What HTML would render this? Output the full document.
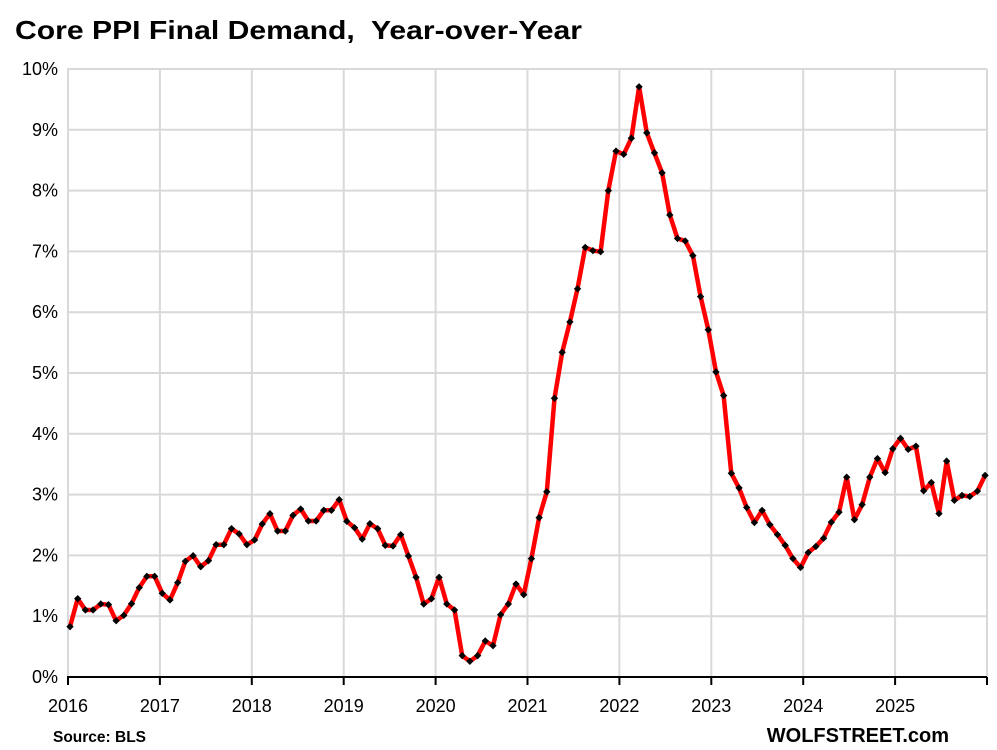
<!DOCTYPE html>
<html><head><meta charset="utf-8"><style>
body{margin:0;background:#fff;}
svg{display:block;font-family:"Liberation Sans",Calibri,sans-serif;}
</style></head><body>
<svg id="s" width="997" height="750" xmlns="http://www.w3.org/2000/svg">
<rect width="997" height="750" fill="#fff"/>
<text x="15" y="39" font-size="26" font-weight="bold" fill="#000" textLength="567" lengthAdjust="spacingAndGlyphs" style="white-space:pre">Core PPI Final Demand,  Year-over-Year</text>
<g id="grid" stroke="#d9d9d9" stroke-width="2" fill="none"></g>
<g id="lbl" font-size="18" fill="#000"></g>
<line x1="67" y1="677" x2="987" y2="677" stroke="#000" stroke-width="2"/>
<g id="ticks" stroke="#000" stroke-width="2"></g>
<polyline id="ln" fill="none" stroke="#ff0000" stroke-width="4.5" stroke-linejoin="round"/>
<g id="mk" fill="#000"></g>
<text x="53" y="742" font-size="15.5" font-weight="bold">Source: BLS</text>
<text x="949" y="742" font-size="20" font-weight="bold" text-anchor="end">WOLFSTREET.com</text>
</svg>
<script>
var NS="http://www.w3.org/2000/svg";
function el(p,t,a,txt){var e=document.createElementNS(NS,t);for(var k in a)e.setAttribute(k,a[k]);if(txt!=null)e.textContent=txt;p.appendChild(e);return e;}
var g=document.getElementById('grid'),l=document.getElementById('lbl'),tk=document.getElementById('ticks');
for(var i=0;i<=10;i++){var y=677-i*60.8;if(i>0)el(g,'line',{x1:67,x2:987,y1:y,y2:y});el(l,'text',{x:58,y:y+6,'text-anchor':'end'},i+'%');}
for(var j=0;j<=10;j++){var x=68+j*91.9;el(g,'line',{x1:x,x2:x,y1:69,y2:677});el(tk,'line',{x1:x,x2:x,y1:677,y2:685});if(j<10)el(l,'text',{x:x,y:712,'text-anchor':'middle'},2016+j);}
var z1=[[32,617],[55,533],[78,567],[101,567],[124,549],[147,551],[170,599],[193,583],[216,548],[239,500],[262,466],[285,466],[308,517],[331,537],[354,485],[377,421],[400,404],[423,437],[446,419],[469,371],[492,371],[515,323],[538,339],[561,371],[584,357],[607,309],[630,278],[653,330],[676,330],[699,283],[722,264],[745,300],[768,300],[791,268],[814,268],[837,236],[860,301],[883,320],[906,354],[929,308],[952,323],[975,373],[998,375],[1021,341],[1044,405],[1067,469],[1090,549],[1113,533],[1136,469],[1159,549],[1182,567],[1205,704],[1228,721],[1251,704],[1274,660],[1297,674],[1320,581],[1343,549],[1366,489],[1389,521],[1412,413],[1435,290]];
var z2=[[138,1207],[161,945],[184,816],[207,731],[230,638],[253,522],[276,531],[299,534],[322,363],[345,252],[368,261],[391,216],[414,72],[437,201],[460,257],[483,313],[506,431],[529,497],[552,504],[575,545],[598,660],[621,753],[644,871],[667,937],[690,1155],[713,1196],[736,1251],[759,1293],[782,1259],[805,1299],[828,1327],[851,1357],[874,1394],[897,1419],[920,1377],[943,1360],[966,1337],[989,1292],[1012,1264],[1035,1166],[1058,1285],[1081,1243],[1104,1166],[1127,1114],[1150,1153],[1173,1086],[1196,1057],[1219,1088],[1242,1079],[1265,1204],[1288,1181],[1311,1268],[1334,1121],[1357,1231],[1380,1217],[1403,1220],[1426,1205],[1449,1161]];
var pts=[],dx=7.69;
z1.forEach(function(p,i){pts.push([70+i*dx,420+p[1]/3+1]);});
z2.forEach(function(p,i){pts.push([70+(62+i)*dx,69+(p[1]-22)*547/1533]);});
document.getElementById('ln').setAttribute('points',pts.map(function(p){return p[0].toFixed(1)+','+p[1].toFixed(1);}).join(' '));
var mk=document.getElementById('mk');
pts.forEach(function(p){el(mk,'rect',{x:p[0]-2.6,y:p[1]-2.6,width:5.2,height:5.2,transform:'rotate(45 '+p[0].toFixed(1)+' '+p[1].toFixed(1)+')'});});
</script>
</body></html>
